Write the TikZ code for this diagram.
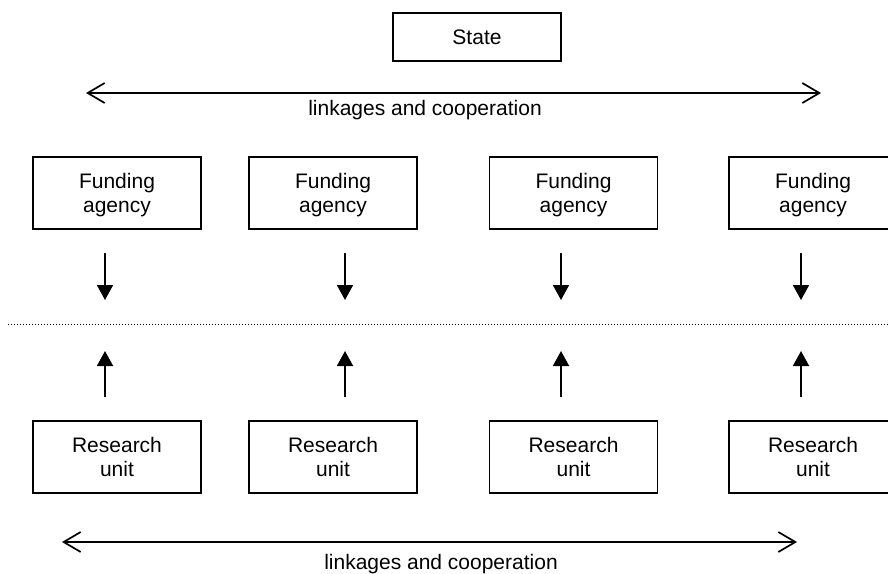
\documentclass[tikz,border=0pt]{standalone}
\usepackage{fontspec}
\setmainfont{Liberation Sans}
\usetikzlibrary{arrows.meta}
\begin{document}
\begin{tikzpicture}[x=1pt,y=-1pt]
	\tikzstyle{Box} = [draw, line width=1.7pt, align=center, inner sep=0pt, text depth=0pt, minimum width=168, minimum height=72, font=\fontsize{21}{24}\selectfont]
	\tikzstyle{Label} = [anchor=base, inner sep=0pt, font=\fontsize{21}{24}\selectfont]
	\tikzstyle{Link} = [line width=1.7pt, {Straight Barb[length=17pt,width=20pt]}-{Straight Barb[length=17pt,width=20pt]}]
	\tikzstyle{Flow} = [line width=1.7pt, -{Triangle[length=15pt,width=16pt]}]
	\useasboundingbox (0,0) rectangle (888,573);
	\clip (0,0) rectangle (888,573);
	% top level
	\node (state) at (477,37) [Box, minimum height=48] {State};
	\coordinate (tl) at (86,93);
	\coordinate (tr) at (821,93);
	\draw[Link] (tl) to (tr);
	\node (toplabel) at (425,115) [Label] {linkages and cooperation};
	% agencies and units
	\node (f1) at (117,193) [Box] {Funding\\agency};
	\node (f2) at (333,193) [Box] {Funding\\agency};
	\node (f3) at (573.5,193) [Box] {Funding\\agency};
	\node (f4) at (813,193) [Box] {Funding\\agency};
	\node (r1) at (117,457) [Box] {Research\\unit};
	\node (r2) at (333,457) [Box] {Research\\unit};
	\node (r3) at (573.5,457) [Box] {Research\\unit};
	\node (r4) at (813,457) [Box] {Research\\unit};
	% arrows towards the divide
	\foreach \i/\x in {1/105, 2/345, 3/561, 4/801} {
		\coordinate (fa\i) at (\x,253);
		\coordinate (fb\i) at (\x,300);
		\coordinate (ra\i) at (\x,397);
		\coordinate (rb\i) at (\x,351);
		\draw[Flow] (fa\i) to (fb\i);
		\draw[Flow] (ra\i) to (rb\i);
	}
	\coordinate (dl) at (8,324);
	\coordinate (dr) at (888,324);
	\draw[line width=1pt, dash pattern=on 1pt off 2pt] (dl) to (dr);
	% bottom level
	\coordinate (bl) at (62,542);
	\coordinate (br) at (797,542);
	\draw[Link] (bl) to (br);
	\node (botlabel) at (441,569) [Label] {linkages and cooperation};
\end{tikzpicture}
\end{document}
